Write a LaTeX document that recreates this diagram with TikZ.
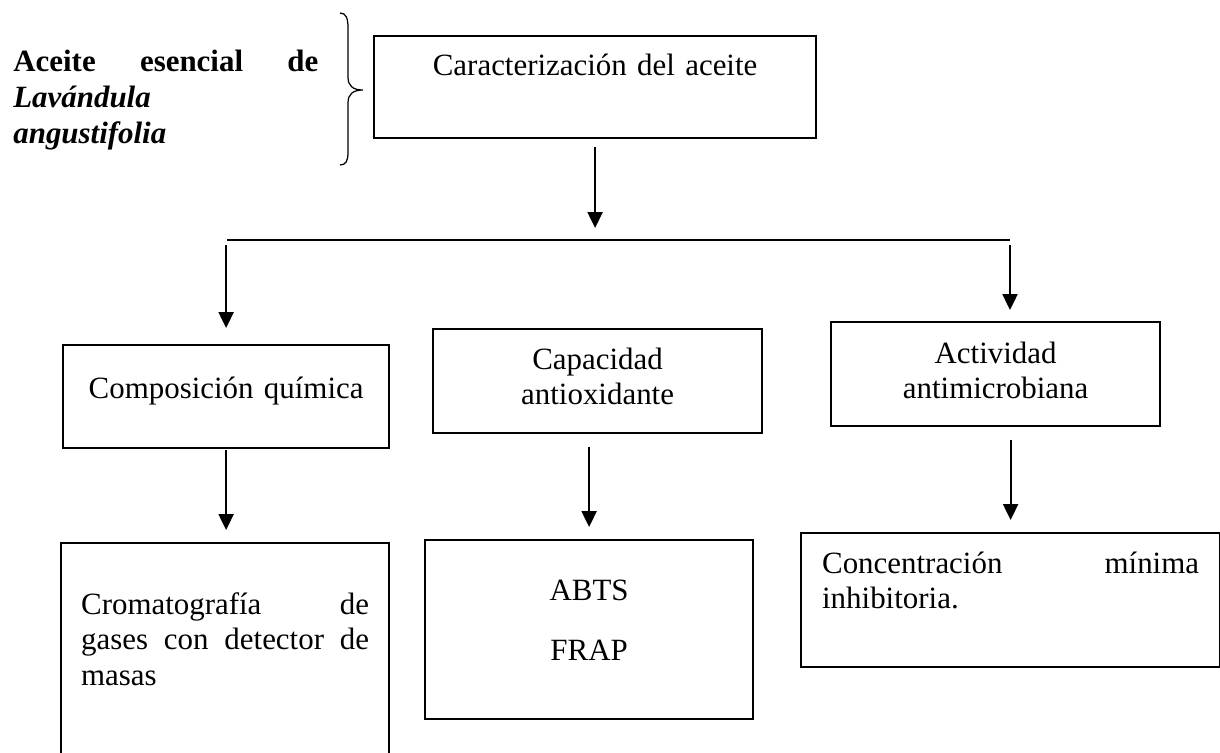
\documentclass[tikz,border=0pt]{standalone}
\usepackage{fontspec}
\setmainfont{Liberation Serif}
\usetikzlibrary{arrows.meta}
\tikzset{
block/.style = {draw, line width=1.3pt, rectangle, inner ysep=0pt, anchor=north west, font=\fontsize{17.6}{20.3}\selectfont},
title/.style = {inner sep=0pt, anchor=base west, font=\fontsize{17.6}{20.6}\selectfont},
tmp/.style   = {coordinate},
bar/.style   = {line width=0.6pt},
link/.style  = {->, line width=1.1pt}
}
\newcommand{\spreadline}[2]{\makebox[#1][s]{#2}}

\begin{document}
\begin{tikzpicture}[x=0.02cm, y=-0.02cm, >={Triangle[length=9pt,width=8.5pt]}]
  \useasboundingbox (0,0) rectangle (1220,752);
  \clip (0,0) rectangle (1220,752);

  \node [title, text width=6.1cm, align=left]                                                            (oil)   at (13,71)   {\spreadline{6.1cm}{\bfseries Aceite\hfill esencial\hfill de}\\ \textbf{\textit{Lavándula}}\\ \textbf{\textit{angustifolia}}};
  \node [block, text width=8.84cm, inner xsep=0pt, text height=0.78cm, text depth=1.26cm, align=center]  (carac) at (373,35)  {Caracterización del aceite};
  \node [block, text width=6.52cm, inner xsep=0pt, text height=1.06cm, text depth=1.0cm, align=center]   (comp)  at (62,344)  {Composición química};
  \node [block, text width=6.58cm, inner xsep=0pt, text height=0.8cm, text depth=1.28cm, align=center]   (cap)   at (432,328) {Capacidad\\ antioxidante};
  \node [block, text width=6.58cm, inner xsep=0pt, text height=0.82cm, text depth=1.26cm, align=center]  (act)   at (830,321) {Actividad\\ antimicrobiana};
  \node [block, text width=5.76cm, inner xsep=0.4cm, text height=1.42cm, text depth=5.16cm, align=left]  (crom)  at (60,542)  {\spreadline{5.76cm}{Cromatografía\hfill de}\\ \spreadline{5.76cm}{gases\hfill con\hfill detector\hfill de}\\ masas};
  \node [block, text width=6.56cm, inner xsep=0pt, text height=1.2cm, text depth=2.38cm, align=center]   (abts)  at (424,539) {ABTS\\[14.3pt] FRAP};
  \node [block, text width=7.54cm, inner xsep=0.42cm, text height=0.8cm, text depth=1.88cm, align=left]  (conc)  at (800,532) {\spreadline{7.54cm}{Concentración\hfill mínima}\\ inhibitoria.};
  \node [tmp]                                                                                            (barL)  at (227,240) {};
  \node [tmp]                                                                                            (barR)  at (1010,240) {};

  % brace
  \draw [line width=0.7pt] (340,13) .. controls (346,13) and (348,18) .. (348,28) -- (348,77) .. controls (348,86) and (353,90) .. (363,90) .. controls (353,90) and (348,94) .. (348,103) -- (348,152) .. controls (348,161) and (346,165) .. (340,165);

  \draw [link, shorten <=0.16cm, shorten >=0.24cm] (carac.south) -- (carac.south |- barL);
  \draw [bar] (barL) -- (barR);
  \draw [link, shorten <=0.1cm, shorten >=0.32cm] (comp.north |- barL) -- (comp.north);
  \draw [link, shorten <=0.1cm, shorten >=0.22cm] (barR) -- (barR |- act.north);
  \draw [link, shorten <=0.02cm, shorten >=0.24cm] (comp.south) -- (comp.south |- crom.north);
  \draw [link, shorten <=0.26cm, shorten >=0.24cm] (cap.south -| abts.north) -- (abts.north);
  \draw [link, shorten <=0.26cm, shorten >=0.24cm] (act.south -| conc.north) -- (conc.north);
\end{tikzpicture}
\end{document}
